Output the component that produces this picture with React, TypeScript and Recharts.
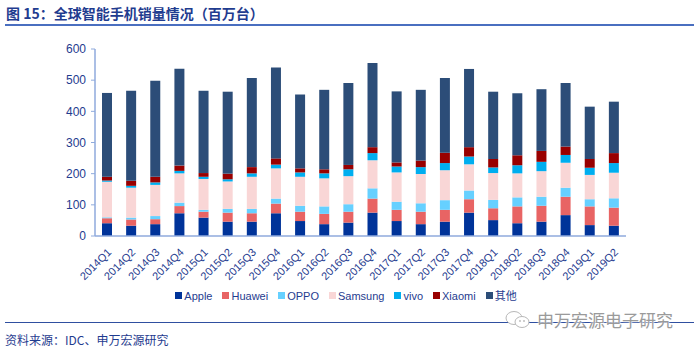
import { BarChart, Bar, XAxis, YAxis, Legend } from 'recharts';

const quarters = [
  '2014Q1', '2014Q2', '2014Q3', '2014Q4', '2015Q1', '2015Q2', '2015Q3', '2015Q4',
  '2016Q1', '2016Q2', '2016Q3', '2016Q4', '2017Q1', '2017Q2', '2017Q3', '2017Q4',
  '2018Q1', '2018Q2', '2018Q3', '2018Q4', '2019Q1', '2019Q2',
];
const apple = [41, 33, 38, 73, 59, 46, 46, 73, 48, 38, 43, 75, 48, 38, 46, 75, 51, 41, 46, 67, 35, 33];
const huawei = [16, 20, 16, 23, 19, 29, 27, 31, 30, 33, 35, 45, 36, 40, 38, 43, 38, 54, 51, 59, 60, 58];
const oppo = [3, 6, 10, 11, 6, 12, 14, 16, 19, 24, 24, 33, 26, 27, 31, 28, 27, 29, 29, 29, 23, 30];
const samsung = [114, 96, 100, 94, 99, 88, 103, 97, 93, 90, 90, 90, 94, 94, 96, 84, 86, 77, 82, 80, 78, 82];
const vivo = [4, 6, 8, 8, 7, 7, 11, 12, 14, 16, 22, 23, 19, 22, 23, 25, 18, 26, 30, 25, 23, 31];
const xiaomi = [12, 16, 18, 17, 12, 18, 20, 20, 13, 13, 14, 19, 13, 21, 33, 30, 27, 32, 35, 27, 28, 32];
const others = [269, 289, 308, 311, 264, 263, 286, 292, 237, 255, 263, 270, 228, 227, 240, 251, 216, 199, 198, 204, 168, 165];
const yTicks = [0, 100, 200, 300, 400, 500, 600];

const series = [
  { key: 'Apple', values: apple, color: '#003399' },
  { key: 'Huawei', values: huawei, color: '#E86464' },
  { key: 'OPPO', values: oppo, color: '#66D0FF' },
  { key: 'Samsung', values: samsung, color: '#F9D6D6' },
  { key: 'vivo', values: vivo, color: '#00AEEF' },
  { key: 'Xiaomi', values: xiaomi, color: '#990000' },
  { key: '其他', values: others, color: '#2C4D78' },
];
const seriesOrder = series.map((s) => s.key);

const data = quarters.map((q, i) => {
  const row: Record<string, string | number> = { q };
  series.forEach((s) => {
    row[s.key] = s.values[i];
  });
  return row;
});

const NAVY = '#1F3C8F';
const AXIS = '#8FAADC';
const FONT = 'Arial, "Liberation Sans", "Noto Sans CJK SC", sans-serif';

function QuarterTick({ x, y, payload }: any) {
  return (
    <text
      x={x + 5}
      y={y + 9}
      transform={`rotate(-45 ${x + 5} ${y + 9})`}
      textAnchor="end"
      fontSize={11}
      fill={NAVY}
      fontFamily={FONT}
    >
      {payload.value}
    </text>
  );
}

export default function App() {
  return (
    <div
      style={{
        position: 'absolute',
        left: 0,
        top: 0,
        width: 699,
        height: 353,
        background: '#fff',
        fontFamily: FONT,
      }}
    >
      <div
        style={{
          position: 'absolute',
          left: 6,
          top: 5,
          fontSize: 14,
          fontWeight: 'bold',
          color: NAVY,
          fontFamily: '"Noto Sans CJK SC", sans-serif',
          lineHeight: '17px',
        }}
      >
        图 15：全球智能手机销量情况（百万台）
      </div>
      <div style={{ position: 'absolute', left: 5, top: 24, width: 689, height: 2, background: '#4A6FC0' }} />

      <div style={{ position: 'absolute', left: 0, top: 0 }}>
        <BarChart width={699} height={353} data={data} margin={{ top: 49, right: 73, left: 0, bottom: 49 }}>
          <XAxis
            dataKey="q"
            interval={0}
            height={50}
            tick={<QuarterTick />}
            tickLine={false}
            axisLine={{ stroke: AXIS, strokeWidth: 1.5 }}
          />
          <YAxis
            width={95}
            domain={[0, 600]}
            ticks={yTicks}
            tick={{ fontSize: 12, fill: NAVY, fontFamily: FONT }}
            tickSize={4}
            tickMargin={5}
            tickLine={{ stroke: AXIS }}
            axisLine={{ stroke: AXIS, strokeWidth: 1.5 }}
          />
          <Legend
            verticalAlign="bottom"
            iconType="square"
            iconSize={7}
            itemSorter={(item: any) => seriesOrder.indexOf(item.dataKey ?? item.value)}
            wrapperStyle={{ left: 38 }}
            formatter={(v: string) => (
              <span style={{ color: NAVY, fontSize: 11, fontFamily: FONT, marginLeft: -2 }}>{v}</span>
            )}
          />
          {series.map((s) => (
            <Bar
              key={s.key}
              dataKey={s.key}
              stackId="a"
              fill={s.color}
              barSize={10}
              isAnimationActive={false}
            />
          ))}
        </BarChart>
      </div>

      <div style={{ position: 'absolute', left: 5, top: 322, width: 689, height: 1, background: '#2F4FA0' }} />
      <svg style={{ position: 'absolute', left: 504, top: 310 }} width={28} height={20}>
        <ellipse cx={10} cy={8} rx={8} ry={6.5} fill="#fff" stroke="#B8B8B8" strokeWidth={1} />
        <ellipse cx={18} cy={12} rx={7} ry={5.5} fill="#fff" stroke="#B8B8B8" strokeWidth={1} />
        <circle cx={16} cy={11} r={0.9} fill="#B8B8B8" />
        <circle cx={20} cy={11} r={0.9} fill="#B8B8B8" />
      </svg>
      <div
        style={{
          position: 'absolute',
          left: 537,
          top: 309,
          fontSize: 17,
          color: '#9A9A9A',
          fontFamily: '"Noto Sans CJK SC", sans-serif',
          lineHeight: '22px',
          textShadow: '0 0 2px #fff, 0 0 2px #fff',
        }}
      >
        申万宏源电子研究
      </div>
      <div
        style={{
          position: 'absolute',
          left: 5,
          top: 332,
          fontSize: 12,
          color: NAVY,
          fontFamily: '"Noto Sans CJK SC", sans-serif',
          lineHeight: '16px',
        }}
      >
        资料来源：IDC、申万宏源研究
      </div>
    </div>
  );
}
